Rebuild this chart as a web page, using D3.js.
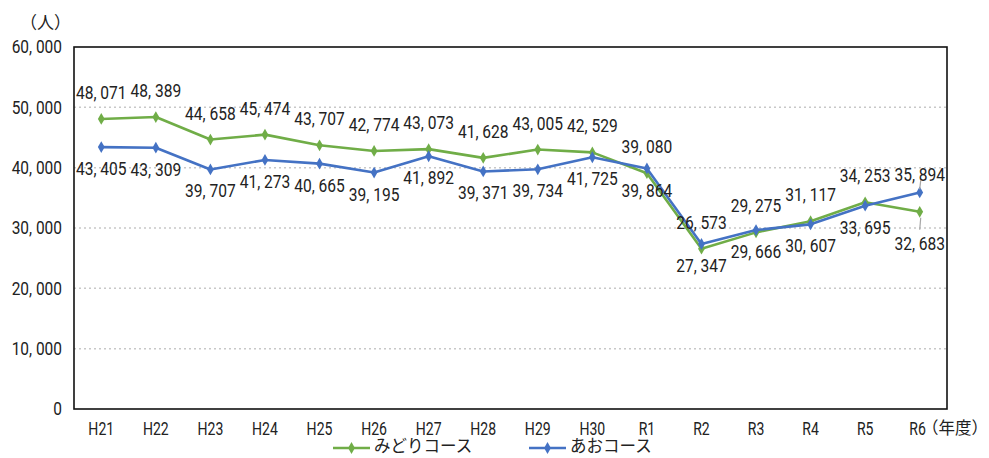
<!DOCTYPE html>
<html>
<head>
<meta charset="utf-8">
<script src="https://cdn.jsdelivr.net/npm/d3@7"></script>
<style>
  body { margin: 0; background: #fff; }
  svg text { font-family: Roboto, "Noto Sans", sans-serif; fill: #222; }
  .jp { font-family: "Noto Sans CJK JP", sans-serif; }
</style>
</head>
<body>
<svg width="989" height="458"></svg>
<script>
const years = ["H21", "H22", "H23", "H24", "H25", "H26", "H27", "H28", "H29", "H30",
               "R1", "R2", "R3", "R4", "R5", "R6"];
const midori = [48071, 48389, 44658, 45474, 43707, 42774, 43073, 41628, 43005, 42529,
                39080, 26573, 29275, 31117, 34253, 32683];
const ao = [43405, 43309, 39707, 41273, 40665, 39195, 41892, 39371, 39734, 41725,
            39864, 27347, 29666, 30607, 33695, 35894];
const yTicks = [0, 10000, 20000, 30000, 40000, 50000, 60000];

const series = [
    {name: "みどりコース", values: midori, color: "#70AD47", above: true},
    {name: "あおコース", values: ao, color: "#4472C4", above: false}
];

const svg = d3.select("svg");
const plot = {left: 74, right: 947, top: 47, bottom: 409};

const x = d3.scaleBand().domain(years).range([plot.left, plot.right]);
const cx = d => x(d) + x.bandwidth() / 2;
const y = d3.scaleLinear().domain([0, 60000]).range([plot.bottom, plot.top]);

// comma followed by a gap, as in the original
const fmt = v => d3.format(",")(v).replace(",", ", ");

// gridlines
svg.append("g")
    .selectAll("line")
    .data(yTicks.filter(t => t > 0 && t < 60000))
    .join("line")
      .attr("x1", plot.left).attr("x2", plot.right)
      .attr("y1", d => y(d)).attr("y2", d => y(d))
      .attr("stroke", "#c8c8c8")
      .attr("stroke-width", 1.5)
      .attr("stroke-dasharray", "2,3");

// y axis labels (narrow digits -> horizontal squeeze)
const yAxis = svg.append("g")
    .attr("transform", `translate(${plot.left},0)`)
    .call(d3.axisLeft(y).tickValues(yTicks).tickFormat(fmt).tickSize(0).tickPadding(0));
yAxis.select(".domain").remove();
yAxis.selectAll("text")
    .attr("x", -14)
    .attr("transform", "scale(0.86,1)")
    .style("font-size", "18px")
    .attr("fill", "#222");

// x axis labels
const xAxis = svg.append("g")
    .attr("transform", `translate(0,${plot.bottom})`)
    .call(d3.axisBottom(x).tickSize(0).tickPadding(13));
xAxis.select(".domain").remove();
xAxis.selectAll("text")
    .attr("transform", "scale(0.74,1)")
    .attr("dx", d => d === "R6" ? -3 : 0)
    .style("font-size", "19px")
    .attr("fill", "#222");

// frame
svg.append("rect")
    .attr("x", plot.left).attr("y", plot.top)
    .attr("width", plot.right - plot.left).attr("height", plot.bottom - plot.top)
    .attr("fill", "none")
    .attr("stroke", "#111")
    .attr("stroke-width", 1.6);

svg.append("text").attr("class", "jp")
    .attr("x", 20).attr("y", 24)
    .attr("dominant-baseline", "middle")
    .style("font-size", "17px")
    .text("（人）");

svg.append("text").attr("class", "jp")
    .attr("x", 922).attr("y", 430)
    .attr("dominant-baseline", "middle")
    .style("font-size", "16.5px")
    .text("（年度）");

const line = d3.line()
    .x((d, i) => cx(years[i]))
    .y(d => y(d));

const diamond = d3.symbol().type(d3.symbolDiamond).size(40);

series.forEach(s => {
    const g = svg.append("g");
    g.append("path")
        .datum(s.values)
        .attr("d", line)
        .attr("fill", "none")
        .attr("stroke", s.color)
        .attr("stroke-width", 2.6)
        .attr("stroke-linejoin", "round");

    g.selectAll("path.m")
        .data(s.values)
        .join("path")
          .attr("class", "m")
          .attr("d", diamond)
          .attr("transform", (d, i) => `translate(${cx(years[i])},${y(d)})`)
          .attr("fill", s.color);
});

// data labels: green above, blue below, except the last year where they swap
series.forEach(s => {
    s.values.forEach((v, i) => {
        const last = i === years.length - 1;
        const up = last ? !s.above : s.above;
        const off = last ? (up ? -16 : 33) : (up ? -25 : 23);
        const px = cx(years[i]), py = y(v);
        if (last) {
            svg.append("line")
                .attr("x1", px + 1).attr("x2", px)
                .attr("y1", up ? py - 12 : py + 6)
                .attr("y2", up ? py - 3 : py + 18)
                .attr("stroke", "#a6a6a6")
                .attr("stroke-width", 1.2);
        }
        svg.append("text")
            .attr("transform", `translate(${px},${py + off}) scale(0.82,1)`)
            .attr("text-anchor", "middle")
            .attr("dominant-baseline", "middle")
            .style("font-size", "19px")
            .text(fmt(v));
    });
});

// legend
const legend = svg.append("g");
const legendX = [333, 529];
series.forEach((s, i) => {
    const lg = legend.append("g").attr("transform", `translate(${legendX[i]},448)`);
    lg.append("line")
        .attr("x1", 0).attr("x2", 37)
        .attr("stroke", s.color).attr("stroke-width", 2.6);
    lg.append("path")
        .attr("d", diamond)
        .attr("transform", "translate(18.5,0)")
        .attr("fill", s.color);
    lg.append("text").attr("class", "jp")
        .attr("x", 41)
        .attr("dominant-baseline", "middle")
        .style("font-size", "16.5px")
        .text(s.name);
});
</script>
</body>
</html>
